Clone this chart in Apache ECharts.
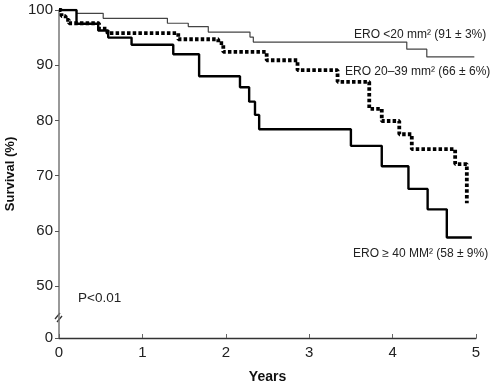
<!DOCTYPE html>
<html>
<head>
<meta charset="utf-8">
<script src="https://cdn.jsdelivr.net/npm/echarts@6/dist/echarts.min.js"></script>
<style>html,body{margin:0;padding:0;background:#fff}#c{width:500px;height:385px}</style>
</head>
<body>
<div id="c"></div>
<script>
// ERO < 20 mm2 (thin line): event times (years) and survival (%) after each step
const lowT = [0, 0.21, 0.53, 1.30, 1.55, 1.79, 2.29, 2.33, 4.17, 4.41, 4.98];
const lowV = [100, 99.4, 98.5, 97.6, 97.0, 96.0, 95.1, 94.2, 92.9, 91.5, 91.5];
// ERO 20-39 mm2 (dotted line)
const midT = [0, 0.03, 0.08, 0.12, 0.48, 0.58, 1.43, 1.91, 1.97, 2.49, 2.86, 3.34, 3.72, 3.87, 4.08, 4.23, 4.75, 4.89];
const midV = [100, 98.9, 98.2, 97.6, 96.6, 95.8, 94.7, 94.0, 92.4, 90.9, 89.1, 87.0, 82.1, 79.9, 77.5, 74.8, 72.1, 65.0];
// ERO >= 40 mm2 (thick solid line)
const highT = [0, 0.21, 0.47, 0.59, 0.87, 1.37, 1.68, 2.17, 2.28, 2.35, 2.40, 3.50, 3.87, 4.19, 4.42, 4.65, 4.95];
const highV = [100, 97.5, 96.3, 95.0, 93.7, 92.0, 88.0, 86.0, 83.4, 81.0, 78.4, 75.4, 71.7, 67.6, 63.9, 58.8, 58.8];
// Y tick positions (the lowest is the broken-axis "0")
const yTicks = [40.6, 50, 60, 70, 80, 90, 100];
const yTickLabels = ['0', '50', '60', '70', '80', '90', '100'];
const xTicks = [0, 1, 2, 3, 4, 5];

const pairs = (t, v) => t.map((x, i) => [x, v[i]]);
const FONT = '"Liberation Sans", Arial, Helvetica, sans-serif';

const chart = echarts.init(document.getElementById('c'), null, {renderer: 'canvas'});
chart.setOption({
  animation: false,
  backgroundColor: '#fff',
  textStyle: {fontFamily: FONT},
  grid: {left: 59, right: 24, top: 10, bottom: 47, containLabel: false, outerBoundsMode: 'none'},
  xAxis: {
    type: 'value', min: 0, max: 5, interval: 1,
    name: 'Years', nameLocation: 'middle', nameGap: 32,
    nameTextStyle: {fontFamily: FONT, fontWeight: 'bold', fontSize: 14, color: '#111'},
    axisLine: {show: true, lineStyle: {color: '#333', width: 1.3}},
    axisTick: {show: true, inside: true, length: 4, lineStyle: {color: '#666'}},
    axisLabel: {fontFamily: FONT, fontSize: 15, color: '#222', margin: 7},
    splitLine: {show: false}
  },
  yAxis: {
    type: 'value', min: yTicks[0], max: 100,
    name: 'Survival (%)', nameLocation: 'middle', nameGap: 40,
    nameTextStyle: {fontFamily: FONT, fontWeight: 'bold', fontSize: 13, color: '#111'},
    axisLine: {show: true, lineStyle: {color: '#777', width: 1.5}},
    axisTick: {show: true, length: 4, customValues: yTicks, lineStyle: {color: '#555'}},
    axisLabel: {
      fontFamily: FONT, fontSize: 15, color: '#222', margin: 6,
      customValues: yTicks,
      formatter: v => { const i = yTicks.findIndex(t => Math.abs(t - v) < 1e-6); return i >= 0 ? yTickLabels[i] : ''; }
    },
    splitLine: {show: false}
  },
  series: [
    {
      name: 'ERO <20', type: 'line', step: 'end', symbol: 'none', z: 2,
      data: pairs(lowT, lowV),
      lineStyle: {color: '#444', width: 1.2}
    },
    {
      name: 'ERO 20-39', type: 'line', step: 'end', symbol: 'none', z: 3,
      data: pairs(midT, midV),
      lineStyle: {color: '#000', width: 3.8, type: [3.5, 2.2], cap: 'butt'}
    },
    {
      name: 'ERO >=40', type: 'line', step: 'end', symbol: 'none', z: 4,
      data: pairs(highT, highV),
      lineStyle: {color: '#000', width: 2.4}
    }
  ],
  graphic: [
    {type: 'text', left: 354, top: 29, style: {text: 'ERO <20 mm² (91 ± 3%)', font: '12px ' + FONT, fill: '#222'}},
    {type: 'text', left: 345, top: 66, style: {text: 'ERO 20–39 mm² (66 ± 6%)', font: '12px ' + FONT, fill: '#222'}},
    {type: 'text', left: 353, top: 248, style: {text: 'ERO ≥ 40 MM² (58 ± 9%)', font: '12px ' + FONT, fill: '#222'}},
    {type: 'text', left: 78, top: 291, style: {text: 'P<0.01', font: '13.5px ' + FONT, fill: '#222'}},
    {type: 'line', shape: {x1: 55, y1: 319, x2: 60, y2: 313}, style: {stroke: '#333', lineWidth: 1.3}},
    {type: 'line', shape: {x1: 57, y1: 322, x2: 62, y2: 316}, style: {stroke: '#333', lineWidth: 1.3}}
  ]
});
</script>
</body>
</html>
